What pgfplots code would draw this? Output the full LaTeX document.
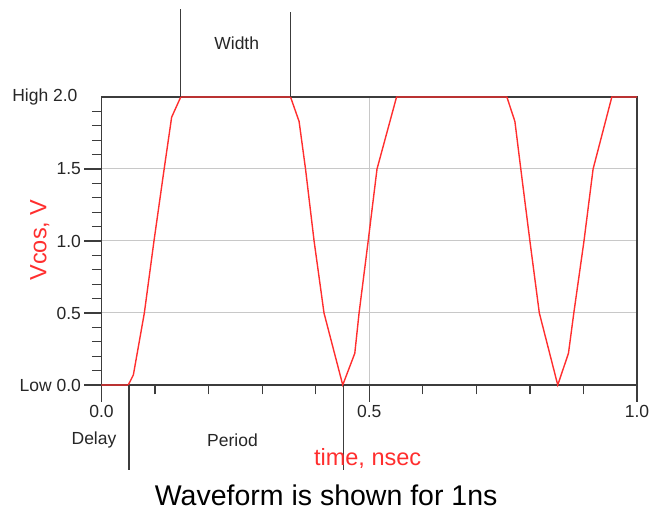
\documentclass[border=0pt]{standalone}
\usepackage{fontspec}
\setmainfont{Liberation Sans}
\usepackage{pgfplots}
\pgfplotsset{compat=1.18}
\definecolor{wave}{HTML}{FF2E2E}
\definecolor{frame}{HTML}{3C3C3C}
\definecolor{gridgray}{HTML}{C8C8C8}

% Vcos source: delay 0.05 ns, width 0.2 ns, period 0.4 ns, low 0 V, high 2 V
\pgfplotstableread{
t     v
0      0
0.05   0
0.0595 0.07
0.080  0.5
0.098  1.0
0.117  1.5
0.131  1.86
0.148  2.0
0.353  2.0
0.369  1.83
0.381  1.5
0.397  1.0
0.4155 0.5
0.4505 0
0.473  0.22
0.481  0.5
0.498  1.0
0.5145 1.5
0.551  2.0
0.757  2.0
0.772  1.83
0.783  1.5
0.800  1.0
0.8176 0.5
0.852  0
0.872  0.22
0.882  0.5
0.901  1.0
0.918  1.5
0.953  2.0
1.0    2.0
}\wavetable

\begin{document}
\begin{tikzpicture}
\begin{axis}[
  name=main,
  scale only axis, width=535.5pt, height=288pt,
  xmin=0, xmax=1, ymin=0, ymax=2,
  axis line style={frame, line width=1.5pt},
  xtick={0,0.5,1}, xticklabels={0.0,0.5,1.0},
  ytick={0,0.5,1,1.5}, yticklabels={Low 0.0,0.5,1.0,1.5},
  minor xtick={0.1,0.2,0.3,0.4,0.6,0.7,0.8,0.9},
  minor ytick={0.1,0.2,0.3,0.4,0.6,0.7,0.8,0.9,1.1,1.2,1.3,1.4,1.6,1.7,1.8,1.9},
  tick align=outside, tick pos=left,
  major tick length=17pt, minor tick length=9.5pt,
  every tick/.style={frame, line width=1.3pt},
  grid=major,
  major grid style={gridgray, line width=1pt},
  minor grid style={draw=none},
  /pgf/number format/assume math mode=true,
  ticklabel style={font=\fontsize{17.5}{20}\selectfont, text=black!85},
  xlabel={time, nsec},
  xlabel style={at={(axis description cs:0.497,-0.2535)}, anchor=center,
    font=\fontsize{23.5}{26}\selectfont, text=wave},
  ylabel={Vcos, V},
  ylabel style={at={(axis description cs:-0.115,0.5035)}, anchor=center, rotate=0,
    font=\fontsize{23.5}{26}\selectfont, text=wave},
  clip=false,
]
\addplot[wave, line width=1.4pt] table[x=t, y=v] {\wavetable};

% pulse annotations
\draw[frame, line width=1.3pt] (axis cs:0.148,2) -- (axis cs:0.148,2.609);
\draw[frame, line width=1.3pt] (axis cs:0.353,2) -- (axis cs:0.353,2.592);
\draw[frame, line width=1.3pt] (axis cs:0.0514,0) -- (axis cs:0.0514,-0.59);
\draw[frame, line width=1.3pt] (axis cs:0.4516,0) -- (axis cs:0.4516,-0.59);
\node[font=\fontsize{17.5}{20}\selectfont, text=black!85] at (axis cs:0.2525,2.375) {Width};
\node[font=\fontsize{17.5}{20}\selectfont, text=black!85] at (axis cs:-0.014,-0.382) {Delay};
\node[font=\fontsize{17.5}{20}\selectfont, text=black!85] at (axis cs:0.2446,-0.382) {Period};
\node[font=\fontsize{17.5}{20}\selectfont, text=black!85, anchor=east] at (axis cs:-0.0383,2) {High 2.0};
\node[font=\fontsize{28.5}{32}\selectfont, text=black] at (axis cs:0.4195,-0.764) {Waveform is shown for 1ns};
\end{axis}
\pgfresetboundingbox
\path ([shift={(-101.5pt,-127pt)}]main.south west) rectangle ([shift={(16pt,97pt)}]main.north east);
\end{tikzpicture}
\end{document}
